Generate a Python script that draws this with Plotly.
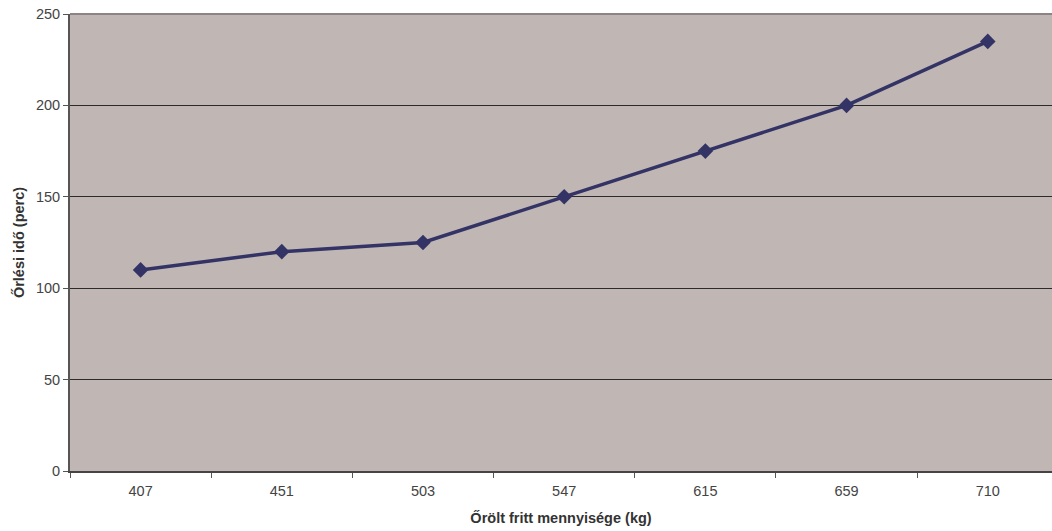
import plotly.graph_objects as go

# Mennyiség (kg) és őrlési idő (perc)
categories = ["407", "451", "503", "547", "615", "659", "710"]
grind_time = [110, 120, 125, 150, 175, 200, 235]
y_ticks = [0, 50, 100, 150, 200, 250]

fig = go.Figure()
fig.add_trace(go.Scatter(
    x=categories,
    y=grind_time,
    mode="lines+markers",
    line=dict(color="#333366", width=3.5),
    marker=dict(symbol="diamond", size=12, color="#333366"),
    showlegend=False,
))

fig.update_layout(
    width=1052,
    height=531,
    margin=dict(l=70, r=0, t=14, b=60),
    paper_bgcolor="white",
    plot_bgcolor="#C0B7B4",
    font=dict(family="Liberation Sans, Arial, sans-serif", size=14, color="#333333"),
    xaxis=dict(
        type="category",
        # the plot area runs slightly past the right edge of the page
        range=[-0.5, len(categories) - 0.545],
        tickson="boundaries",
        ticks="outside",
        ticklen=5,
        tickcolor="#555555",
        ticklabelstandoff=6,
        showgrid=False,
        showline=True,
        linecolor="#444444",
        linewidth=2,
        title=dict(text="<b>Őrölt fritt mennyisége (kg)</b>", font=dict(size=14.5, color="#333333"), standoff=14),
        tickfont=dict(size=14.5, color="#444444"),
    ),
    yaxis=dict(
        range=[0, 250],
        tickvals=y_ticks,
        ticks="outside",
        ticklen=5,
        tickcolor="#555555",
        showgrid=True,
        gridcolor="#2b2b2b",
        gridwidth=1,
        zeroline=False,
        showline=True,
        linecolor="#555555",
        linewidth=2,
        title=dict(text="<b>Őrlési idő (perc)</b>", font=dict(size=14.5, color="#333333"), standoff=8),
        tickfont=dict(size=14.5, color="#444444"),
    ),
)

# Felső keretvonal
fig.add_shape(
    type="line", xref="paper", yref="paper",
    x0=0, x1=1, y0=1, y1=1,
    line=dict(color="#8C8484", width=2),
    layer="above",
)

fig.write_html("out.html")
